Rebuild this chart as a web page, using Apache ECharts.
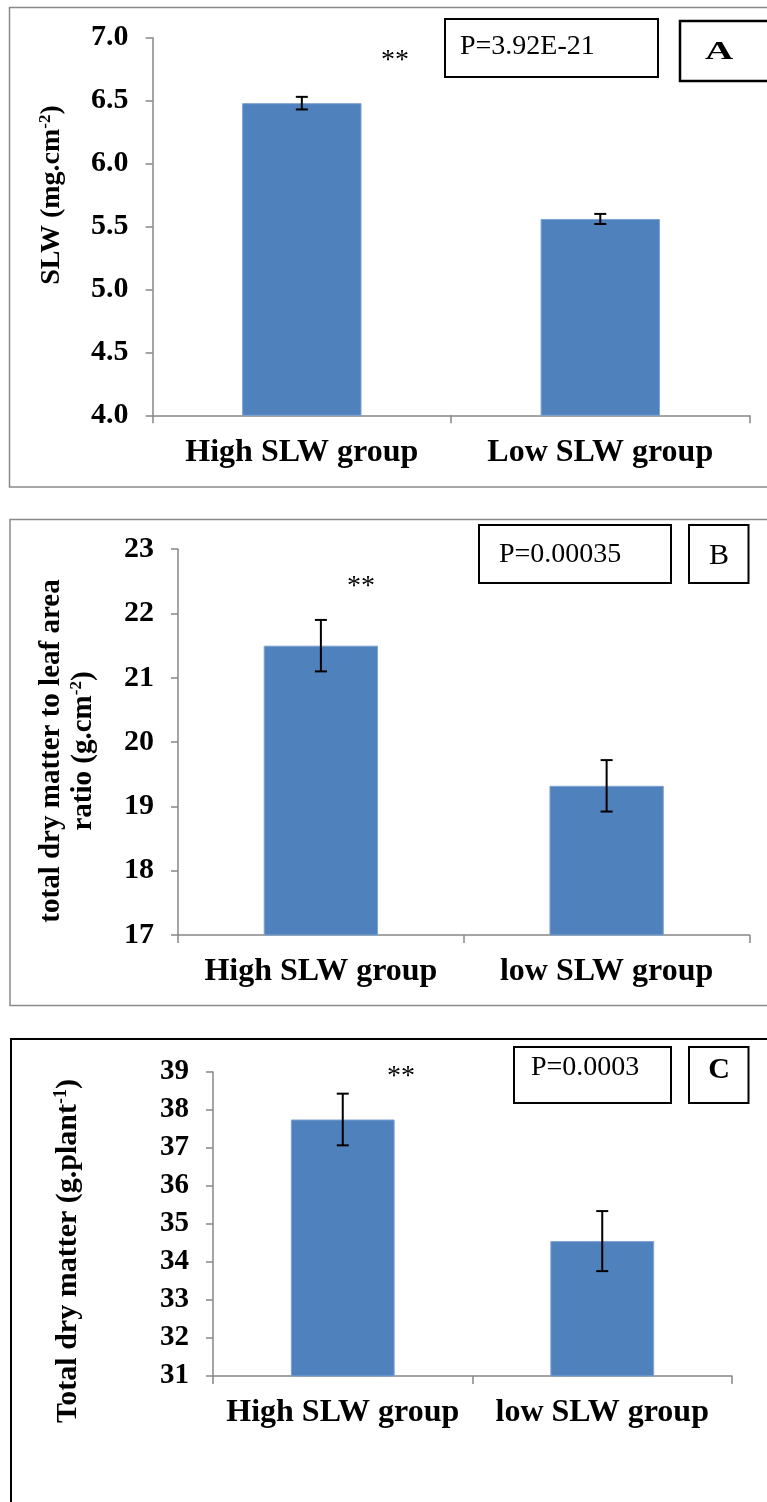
<!DOCTYPE html>
<html>
<head>
<meta charset="utf-8">
<script src="https://cdn.jsdelivr.net/npm/echarts@6/dist/echarts.min.js"></script>
<style>
  html, body { margin: 0; padding: 0; background: #ffffff; }
  #chart { width: 767px; height: 1502px; }
</style>
</head>
<body>
<div id="chart"></div>
<script>
// Group names on the category axes
const groupsA = ['High SLW group', 'Low SLW group'];
const groupsB = ['High SLW group', 'low SLW group'];
const groupsC = ['High SLW group', 'low SLW group'];

// Panel A: specific leaf weight (mean, standard error)
const slwMean = [6.48, 5.56];
const slwErr = [0.05, 0.04];

// Panel B: total dry matter to leaf area ratio
const ratioMean = [21.5, 19.32];
const ratioErr = [0.4, 0.4];

// Panel C: total dry matter per plant
const dryMean = [37.75, 34.55];
const dryErr = [0.68, 0.79];

// Significance annotations
const pTexts = ['P=3.92E-21', 'P=0.00035', 'P=0.0003'];
const panelLetters = ['A', 'B', 'C'];
const starText = '**';

// Value axis ranges
const axisA = { min: 4, max: 7, interval: 0.5 };
const axisB = { min: 17, max: 23, interval: 1 };
const axisC = { min: 31, max: 39, interval: 1 };

const SERIF = '"Liberation Serif", "Times New Roman", serif';
const BAR = '#4f81bd';
const AXIS = '#878787';

function errorBars(params, api) {
  const idx = api.value(0);
  const top = api.coord([idx, api.value(2)]);
  const bot = api.coord([idx, api.value(1)]);
  const hw = 6;
  const st = { stroke: '#000', lineWidth: 2 };
  return {
    type: 'group',
    children: [
      { type: 'line', shape: { x1: top[0], y1: top[1], x2: bot[0], y2: bot[1] }, style: st },
      { type: 'line', shape: { x1: top[0] - hw, y1: top[1], x2: top[0] + hw, y2: top[1] }, style: st },
      { type: 'line', shape: { x1: bot[0] - hw, y1: bot[1], x2: bot[0] + hw, y2: bot[1] }, style: st }
    ]
  };
}

function xAxisFor(cats, gridIndex) {
  return {
    type: 'category', gridIndex, data: cats, boundaryGap: true,
    axisLine: { lineStyle: { color: AXIS, width: 1.5 } },
    axisTick: { show: true, length: 8, lineStyle: { color: AXIS, width: 1.5 } },
    axisLabel: {
      interval: 0, hideOverlap: false,
      color: '#000', fontFamily: SERIF, fontWeight: 'bold', fontSize: 32, margin: 21
    }
  };
}

function yAxisFor(range, gridIndex, fontSize, decimals) {
  return {
    type: 'value', gridIndex, min: range.min, max: range.max, interval: range.interval,
    splitLine: { show: false },
    axisLine: { show: true, lineStyle: { color: AXIS, width: 1.5 } },
    axisTick: { show: true, length: 7, lineStyle: { color: AXIS, width: 1.5 } },
    axisLabel: {
      color: '#000', fontFamily: SERIF, fontWeight: 'bold', fontSize, margin: 24,
      formatter: v => v.toFixed(decimals)
    }
  };
}

function barSeries(values, idx) {
  return {
    type: 'bar', xAxisIndex: idx, yAxisIndex: idx, data: values, barWidth: '40%',
    itemStyle: { color: BAR, borderColor: '#7ea2d0', borderWidth: 1 },
    silent: true, animation: false
  };
}

function errSeries(means, errs, idx) {
  return {
    type: 'custom', xAxisIndex: idx, yAxisIndex: idx, renderItem: errorBars,
    encode: { x: 0, y: [1, 2] },
    data: means.map((m, i) => [i, m - errs[i], m + errs[i]]),
    silent: true, animation: false, z: 5
  };
}

function boxText(x, y, txt, size, weight) {
  return { type: 'text', x, y, style: { text: txt, fill: '#000', fontFamily: SERIF, fontSize: size, fontWeight: weight, align: 'left', verticalAlign: 'middle' } };
}
function centerText(x, y, txt, size, weight, extra) {
  return Object.assign({ type: 'text', x, y, style: { text: txt, fill: '#000', fontFamily: SERIF, fontSize: size, fontWeight: weight, align: 'center', verticalAlign: 'middle' } }, extra || {});
}
function rect(x, y, w, h, stroke, lw) {
  return { type: 'rect', shape: { x, y, width: w, height: h }, style: { fill: 'none', stroke, lineWidth: lw } };
}
function rotatedTitle(x, y, txt, size, lineHeight) {
  return {
    type: 'text', x, y, rotation: Math.PI / 2,
    style: {
      text: txt, fill: '#000', fontFamily: SERIF, fontSize: size, fontWeight: 'bold',
      align: 'center', verticalAlign: 'middle', lineHeight,
      rich: {
        sup: { fontFamily: SERIF, fontSize: Math.round(size * 0.6), fontWeight: 'bold', verticalAlign: 'top', lineHeight: Math.round(size * 0.6), fill: '#000' }
      }
    }
  };
}

const chart = echarts.init(document.getElementById('chart'), null, { renderer: 'canvas' });

chart.setOption({
  backgroundColor: '#ffffff',
  animation: false,
  grid: [
    { left: 152.6, top: 37.7, width: 596.9, height: 377.6 },
    { left: 178, top: 549.2, width: 571.5, height: 385.8 },
    { left: 213, top: 1072, width: 519, height: 304 }
  ],
  xAxis: [xAxisFor(groupsA, 0), xAxisFor(groupsB, 1), xAxisFor(groupsC, 2)],
  yAxis: [yAxisFor(axisA, 0, 30, 1), yAxisFor(axisB, 1, 30, 0), yAxisFor(axisC, 2, 29, 0)],
  series: [
    barSeries(slwMean, 0), errSeries(slwMean, slwErr, 0),
    barSeries(ratioMean, 1), errSeries(ratioMean, ratioErr, 1),
    barSeries(dryMean, 2), errSeries(dryMean, dryErr, 2)
  ],
  graphic: [
    // panel frames
    rect(9.5, 7.5, 800, 479.5, '#8a8a8a', 1.5),
    rect(10, 519.5, 800, 486, '#8a8a8a', 1.5),
    rect(11, 1039, 800, 520, '#000', 2),

    // panel A annotations
    rect(445, 19, 213, 58, '#000', 2),
    boxText(460, 47, pTexts[0], 28, 'normal'),
    rect(680, 21, 120, 60, '#000', 2.5),
    centerText(719, 52, panelLetters[0], 26, 'bold', { scaleX: 1.5 }),
    centerText(395, 61, starText, 28, 'normal'),
    rotatedTitle(52, 195, 'SLW (mg.cm{sup|-2})', 28, 30),

    // panel B annotations
    rect(479, 525, 192, 58, '#000', 2),
    boxText(499, 555, pTexts[1], 28, 'normal'),
    rect(689, 525, 59.5, 58, '#000', 2),
    centerText(719, 556, panelLetters[1], 30, 'normal'),
    centerText(361, 587, starText, 28, 'normal'),
    rotatedTitle(68, 751, 'total dry matter to leaf area\nratio (g.cm{sup|-2})', 29, 32),

    // panel C annotations
    rect(514, 1047, 157, 56, '#000', 2),
    boxText(531, 1068, pTexts[2], 28, 'normal'),
    rect(689, 1047, 59.5, 56, '#000', 2),
    centerText(719, 1070, panelLetters[2], 30, 'bold'),
    centerText(401, 1077, starText, 28, 'normal'),
    rotatedTitle(68, 1251, 'Total dry matter (g.plant{sup|-1})', 30, 32)
  ]
});
</script>
</body>
</html>
